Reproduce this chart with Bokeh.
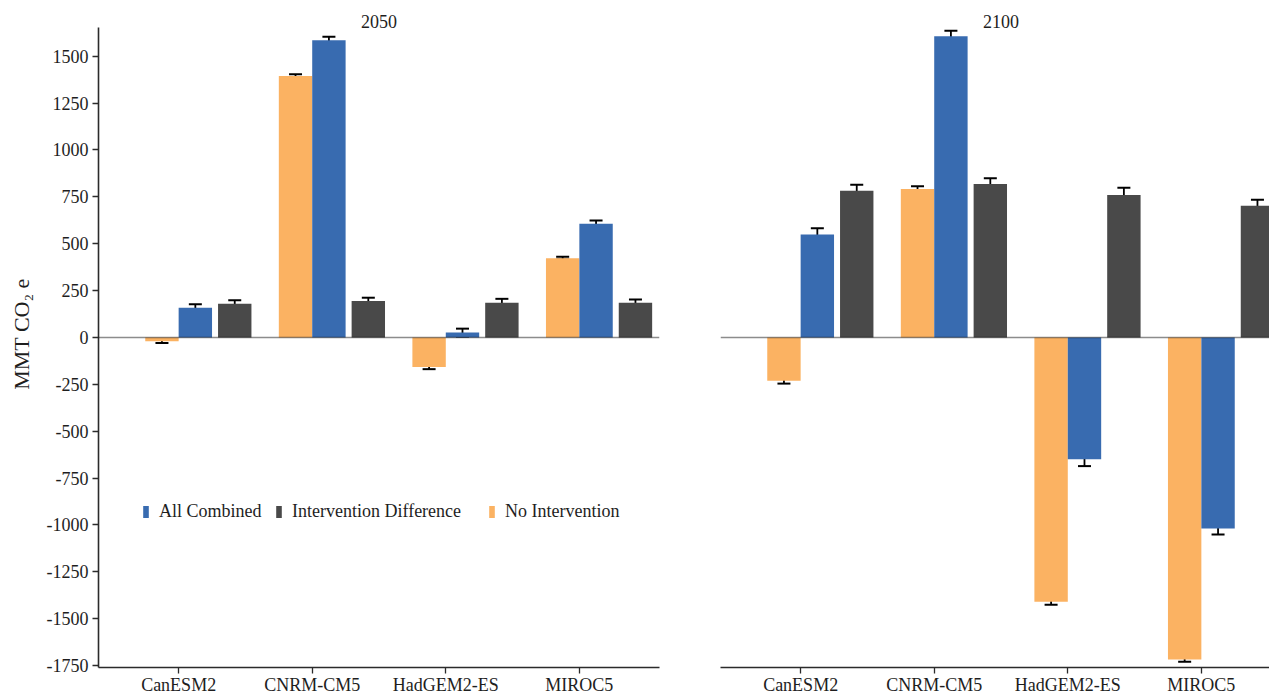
import numpy as np
from bokeh.plotting import figure
from bokeh.models import (ColumnDataSource, Range1d, FixedTicker, Span, Whisker,
                          TeeHead, Legend, LegendItem, Label)
from bokeh.layouts import row
from bokeh.transform import dodge
from bokeh.embed import file_html
from bokeh.resources import INLINE

# ---------------- data ----------------
models = ["CanESM2", "CNRM-CM5", "HadGEM2-ES", "MIROC5"]
years = ["2050", "2100"]

no_int_2050 = [-20, 1394, -157, 423]
no_int_2050_err = [9, 10, 12, 7]
all_comb_2050 = [158, 1585, 26, 607]
all_comb_2050_err = [19, 19, 21, 17]
int_diff_2050 = [180, 195, 185, 185]
int_diff_2050_err = [18, 17, 21, 17]

no_int_2100 = [-231, 792, -1410, -1717]
no_int_2100_err = [15, 15, 15, 12]
all_comb_2100 = [549, 1606, -650, -1019]
all_comb_2100_err = [33, 30, 36, 32]
int_diff_2100 = [782, 819, 760, 702]
int_diff_2100_err = [33, 30, 38, 33]

y_ticks = [-1750, -1500, -1250, -1000, -750, -500, -250, 0,
           250, 500, 750, 1000, 1250, 1500]
y_label = "MMT CO\u2082 e"

series_names = ["No Intervention", "All Combined", "Intervention Difference"]
legend_order = ["All Combined", "Intervention Difference", "No Intervention"]

# ---------------- style / layout ----------------
FONT = "Liberation Serif"
FS = "18px"
colors = {"No Intervention": "#FBB262", "All Combined": "#386BB0",
          "Intervention Difference": "#494949"}
offsets = {"No Intervention": -0.125, "All Combined": 0.125,
           "Intervention Difference": 0.42}
BAR_W = 0.25
AX_COL = "#2b2b2b"
TXT_COL = "#1e1e1e"

data = {
    "2050": {"No Intervention": (no_int_2050, no_int_2050_err),
             "All Combined": (all_comb_2050, all_comb_2050_err),
             "Intervention Difference": (int_diff_2050, int_diff_2050_err)},
    "2100": {"No Intervention": (no_int_2100, no_int_2100_err),
             "All Combined": (all_comb_2100, all_comb_2100_err),
             "Intervention Difference": (int_diff_2100, int_diff_2100_err)},
}

x_pos = list(range(1, len(models) + 1))

Y_LO, Y_HI = -1760, 1653          # panel extent
FRAME_H = 667
TITLE_PX = 27                      # px above panel top reserved for facet title
scale = (FRAME_H - TITLE_PX) / (Y_HI - Y_LO)
y_range = Range1d(Y_LO, Y_HI + TITLE_PX / scale)
TITLE_Y = Y_HI + 6 / scale         # facet title baseline a few px above the panel

FW_LEFT = 561
FW_RIGHT = 549
unit_px = FW_LEFT / 4.2


def make_fig(year, first):
    if first:
        xr = Range1d(0.4, 4.6)
        p = figure(frame_width=FW_LEFT, frame_height=FRAME_H,
                   x_range=xr, y_range=y_range,
                   output_backend="svg", toolbar_location=None,
                   min_border_left=98, min_border_right=61,
                   min_border_top=0, min_border_bottom=10)
    else:
        xr = Range1d(0.4, 0.4 + FW_RIGHT / unit_px)
        p = figure(frame_width=FW_RIGHT, frame_height=FRAME_H,
                   x_range=xr, y_range=y_range,
                   output_backend="svg", toolbar_location=None,
                   y_axis_location=None,
                   min_border_left=0, min_border_right=0,
                   min_border_top=0, min_border_bottom=10)
    p.outline_line_color = None
    p.xgrid.visible = False
    p.ygrid.visible = False
    p.background_fill_color = "white"
    p.border_fill_color = "white"

    renderers = {}
    for s in series_names:
        vals, errs = data[year][s]
        src = ColumnDataSource(dict(x=x_pos, top=vals))
        r = p.vbar(x=dodge("x", offsets[s]), top="top", bottom=0,
                   width=BAR_W, source=src, fill_color=colors[s],
                   line_color=None)
        renderers[s] = r
    # zero line
    p.add_layout(Span(location=0, dimension="width", line_color="black",
                      line_alpha=0.45, line_width=1.6))
    for s in series_names:
        vals, errs = data[year][s]
        src = ColumnDataSource(dict(
            x=x_pos,
            upper=[v + e for v, e in zip(vals, errs)],
            lower=[v - e for v, e in zip(vals, errs)]))
        w = Whisker(base=dodge("x", offsets[s]), upper="upper", lower="lower",
                    source=src, line_color="black", line_width=1.8,
                    upper_head=TeeHead(size=13, line_width=2, line_color="black"),
                    lower_head=TeeHead(size=13, line_width=2, line_color="black"))
        p.add_layout(w)

    # x axis
    xa = p.xaxis[0]
    xa.ticker = FixedTicker(ticks=x_pos)
    xa.major_label_overrides = {i: m for i, m in zip(x_pos, models)}
    xa.minor_tick_line_color = None
    xa.axis_line_color = AX_COL
    xa.axis_line_width = 1.6
    xa.major_tick_line_color = AX_COL
    xa.major_tick_line_width = 1.3
    xa.major_tick_out = 6
    xa.major_tick_in = 0
    xa.major_label_standoff = 1
    xa.major_label_text_font = FONT
    xa.major_label_text_font_size = FS
    xa.major_label_text_color = TXT_COL

    if first:
        ya = p.yaxis[0]
        ya.bounds = (Y_LO, Y_HI)
        ya.ticker = FixedTicker(ticks=y_ticks)
        ya.major_label_overrides = {t: str(t) for t in y_ticks}
        ya.minor_tick_line_color = None
        ya.axis_line_color = AX_COL
        ya.axis_line_width = 1.6
        ya.major_tick_line_color = AX_COL
        ya.major_tick_line_width = 1.3
        ya.major_tick_out = 6
        ya.major_tick_in = 0
        ya.major_label_standoff = 4
        ya.major_label_text_font = FONT
        ya.major_label_text_font_size = FS
        ya.major_label_text_color = TXT_COL
        ya.axis_label = y_label
        ya.axis_label_text_font = FONT
        ya.axis_label_text_font_size = "22px"
        ya.axis_label_text_font_style = "normal"
        ya.axis_label_text_color = TXT_COL
        ya.axis_label_standoff = 10

    # facet title
    p.add_layout(Label(x=2.5, y=TITLE_Y, text=year, text_align="center",
                       text_baseline="alphabetic",
                       text_font=FONT, text_font_size=FS,
                       text_color=TXT_COL))
    return p, renderers


p1, r1 = make_fig("2050", True)
p2, r2 = make_fig("2100", False)

# legend: one entry per Legend so each key sits where the reference has it
legend_x = {"All Combined": 44, "Intervention Difference": 177, "No Intervention": 390}
for s in legend_order:
    lg = Legend(items=[LegendItem(label=s, renderers=[r1[s]])],
                orientation="horizontal", location=(legend_x[s], 145),
                glyph_width=7, glyph_height=15, label_standoff=10, spacing=0,
                padding=0, margin=0, border_line_color=None,
                background_fill_alpha=0, label_text_font=FONT,
                label_text_font_size=FS, label_text_color=TXT_COL,
                label_height=15)
    p1.add_layout(lg)

layout = row(p1, p2, spacing=0)

with open("out.html", "w") as f:
    f.write(file_html(layout, INLINE))
